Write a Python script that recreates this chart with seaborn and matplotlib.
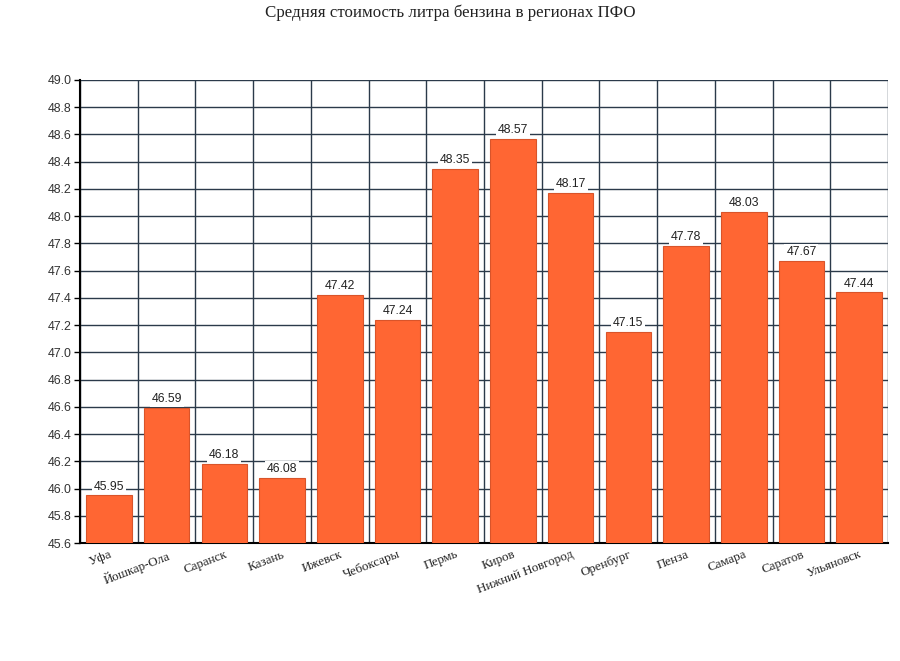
import matplotlib
matplotlib.use("Agg")
import matplotlib.pyplot as plt
import seaborn as sns
import pandas as pd
import numpy as np

regions = ["Уфа", "Йошкар-Ола", "Саранск", "Казань", "Ижевск", "Чебоксары", "Пермь",
           "Киров", "Нижний Новгород", "Оренбург", "Пенза", "Самара", "Саратов", "Ульяновск"]
prices = [45.95, 46.59, 46.18, 46.08, 47.42, 47.24, 48.35,
          48.57, 48.17, 47.15, 47.78, 48.03, 47.67, 47.44]
yticks = [45.6 + 0.2 * i for i in range(18)]

sns.set_theme(style="white")
plt.rcParams['font.family'] = ['Liberation Serif', 'DejaVu Serif']

df = pd.DataFrame({"region": regions, "price": prices})

fig = plt.figure(figsize=(9, 6.61), dpi=100)
ax = fig.add_axes([0.0889, 0.1785, 0.8978, 0.7005])

sns.barplot(data=df, x="region", y="price", color="#FF6633", saturation=1,
            width=0.79, edgecolor="#D9542A", linewidth=0.8, ax=ax, zorder=3)

ax.set_ylim(45.6, 49.0)
ax.set_xlim(-0.5, len(regions) - 0.5)
ax.set_yticks(yticks)
ax.set_yticklabels([f"{v:.1f}" for v in yticks], family="Liberation Sans", fontsize=8.9, color="#333333")

ax.set_xticks(range(len(regions)))
ax.set_xticklabels(regions, rotation=21, ha="right", rotation_mode="anchor", fontsize=9.4, color="#222222")
ax.tick_params(axis="x", which="major", length=0, pad=4)
ax.set_xticks([i - 0.5 for i in range(len(regions) + 1)], minor=True)
ax.tick_params(axis="x", which="minor", length=5, width=1, color="black", direction="out")
ax.tick_params(axis="y", which="major", length=4, width=1, color="black", direction="out", pad=2, left=True)

ax.grid(True, axis="y", which="major", color="#2B3A4A", linewidth=1.0, zorder=0)
ax.grid(True, axis="x", which="minor", color="#2B3A4A", linewidth=1.0, zorder=0)
ax.grid(False, axis="x", which="major")
ax.set_axisbelow(True)

for s in ["top", "right"]:
    ax.spines[s].set_visible(False)
ax.spines["left"].set_color("black")
ax.spines["left"].set_linewidth(1.5)
ax.spines["bottom"].set_color("black")
ax.spines["bottom"].set_linewidth(1.5)

ax.set_xlabel("")
ax.set_ylabel("")

for i, v in enumerate(prices):
    ax.annotate(f"{v:.2f}", xy=(i, v), xytext=(0, 2), textcoords="offset points",
                ha="center", va="bottom", family="Liberation Sans", fontsize=8.8, color="#222222",
                bbox=dict(boxstyle="square,pad=0.15", fc="white", ec="none"), zorder=5)

fig.suptitle("Средняя стоимость литра бензина в регионах ПФО", y=0.993, fontsize=12.2, color="#222222")

fig.savefig("out.png", dpi=100, facecolor="white")
